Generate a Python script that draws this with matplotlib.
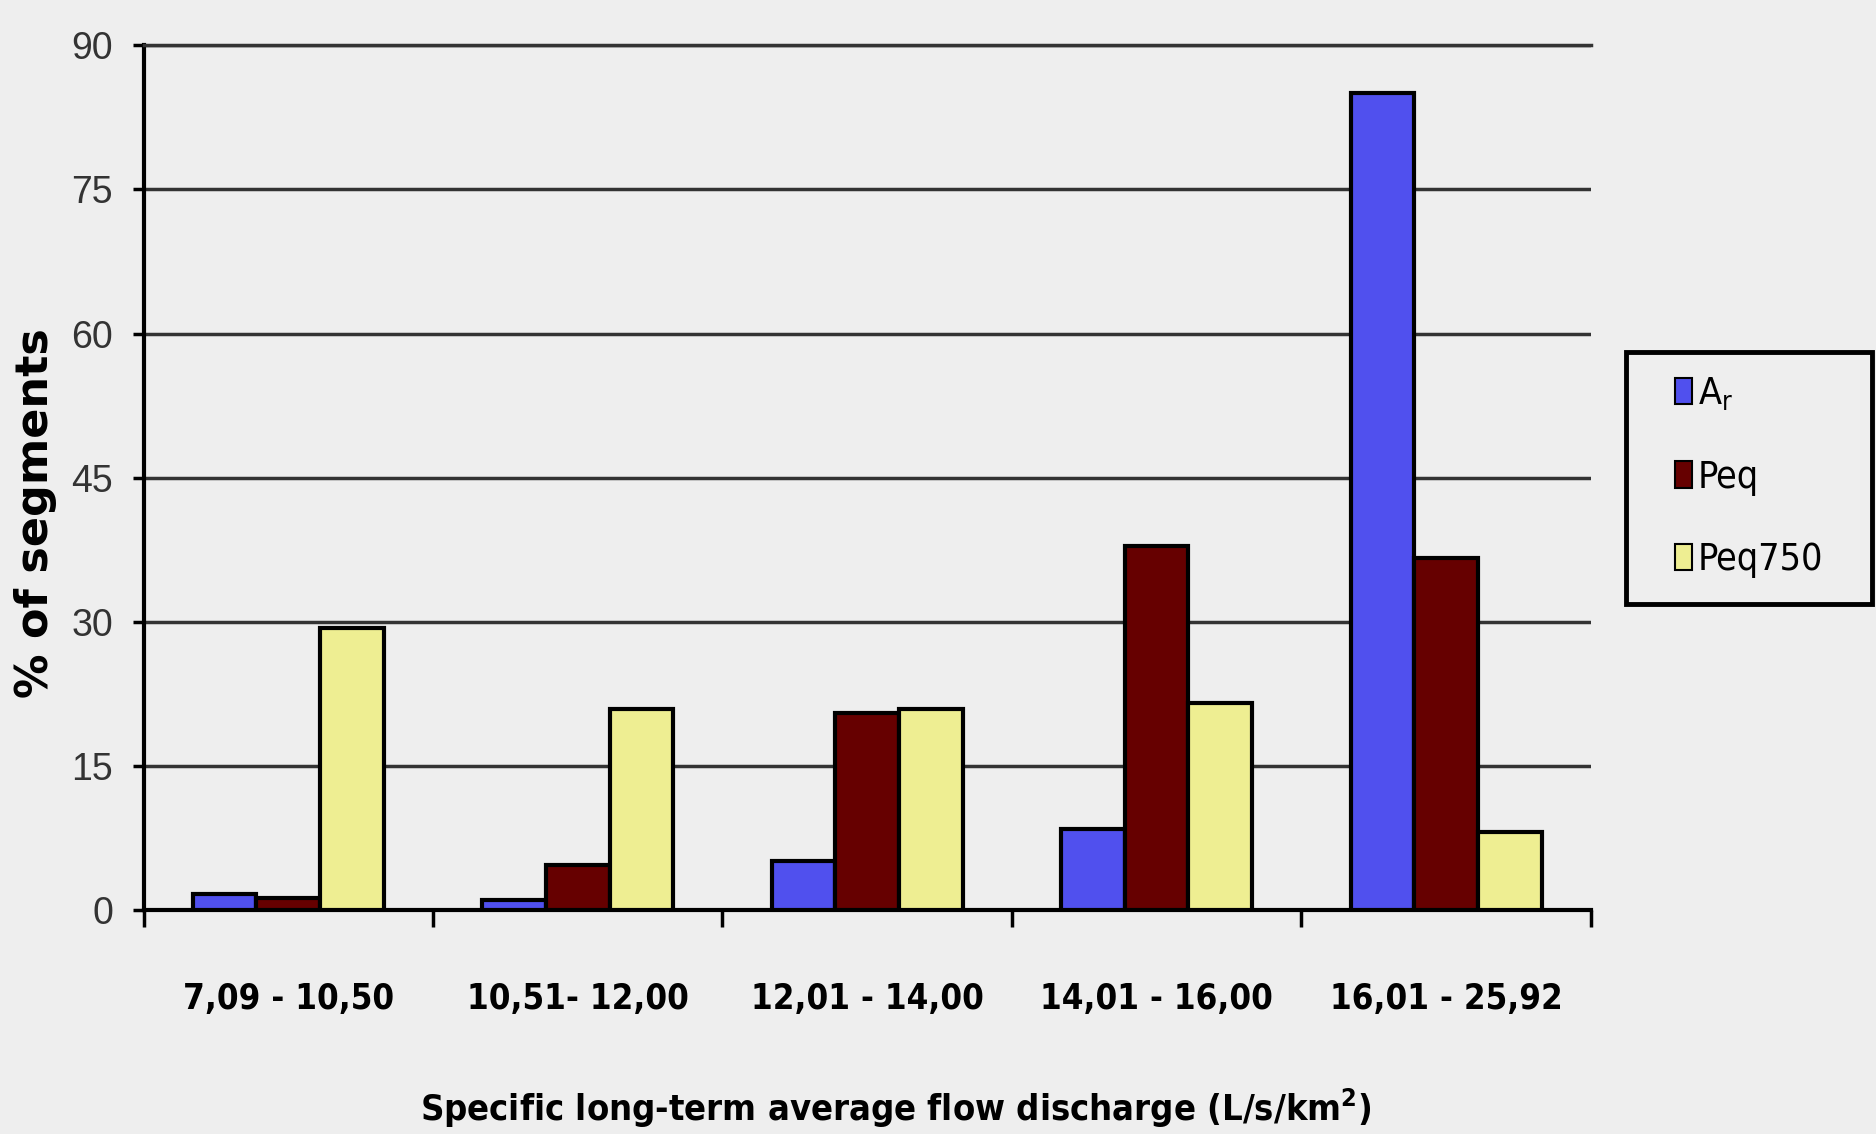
import matplotlib
matplotlib.use("Agg")
import matplotlib.pyplot as plt
import numpy as np
from matplotlib.patches import Rectangle
from matplotlib.ticker import FixedLocator, NullFormatter

# Discharge classes (L/s/km2) and share of river segments per class
categories = ["7,09 - 10,50", "10,51- 12,00", "12,01 - 14,00", "14,01 - 16,00", "16,01 - 25,92"]
series_names = ["A$_\\mathregular{r}$", "Peq", "Peq750"]
a_values = [1.7, 1.0, 5.1, 8.4, 85.0]
peq_values = [1.3, 4.7, 20.5, 37.9, 36.6]
peq750_values = [29.4, 20.9, 20.9, 21.6, 8.1]
y_ticks = [0, 15, 30, 45, 60, 75, 90]

colors = ["#5050ee", "#660000", "#eeee92"]
bg = "#eeeeee"
narrow = ["DejaVu Sans"]

fig = plt.figure(figsize=(18.76, 11.34), dpi=100, facecolor=bg)
ax = fig.add_axes([0.0765, 0.1975, 0.7715, 0.7625], facecolor=bg)

x = np.arange(len(categories))
width = 0.22
for i, (vals, col, name) in enumerate(zip([a_values, peq_values, peq750_values], colors, series_names)):
    ax.bar(x + (i - 1) * width, vals, width, color=col, edgecolor="black",
           linewidth=3, label=name, zorder=3)

ax.set_xlim(-0.5, len(categories) - 0.5)
ax.set_ylim(0, 90)

# horizontal grid
ax.set_yticks(y_ticks)
ax.yaxis.grid(True, color="#333333", linewidth=2.5, zorder=1)
ax.set_axisbelow(True)

ax.spines["right"].set_visible(False)
ax.spines["top"].set_color("#333333")
ax.spines["top"].set_linewidth(2.5)
ax.spines["left"].set_linewidth(3)
ax.spines["bottom"].set_linewidth(3)

ax.tick_params(axis="y", direction="out", length=8, width=2.5, pad=14,
               labelsize=27, labelcolor="#333333")
for lab in ax.get_yticklabels():
    lab.set_family(["Liberation Sans", "DejaVu Sans"])

# category labels centred, tick marks at the class boundaries
ax.set_xticks(x)
ax.set_xticklabels(categories, fontsize=25, fontweight="bold", family=narrow,
                   fontstretch="condensed")
ax.tick_params(axis="x", which="major", length=0, pad=52)
ax.xaxis.set_minor_locator(FixedLocator(np.arange(-0.5, len(categories), 1.0)))
ax.xaxis.set_minor_formatter(NullFormatter())
ax.tick_params(axis="x", which="minor", direction="out", length=12, width=2.5)

ax.set_xlabel("Specific long-term average flow discharge (L/s/km$^\\mathregular{2}$)",
              fontsize=26, fontweight="bold", family=narrow, fontstretch="condensed")
ax.xaxis.set_label_coords(0.52, -0.205)
fig.text(0.019, 0.548, "% of segments", rotation=90, fontsize=32,
         fontweight="heavy", family=["DejaVu Sans"], ha="center", va="center")

# legend box reaching the right edge of the figure
fig.patches.append(Rectangle((0.8665, 0.4675), 0.1315, 0.2225, transform=fig.transFigure,
                             facecolor=bg, edgecolor="black", linewidth=3.5, zorder=0))
leg = fig.legend(loc="upper left", bbox_to_anchor=(0.893, 0.669),
                 prop={"family": narrow, "size": 27, "stretch": "condensed"},
                 frameon=False, borderpad=0, borderaxespad=0,
                 labelspacing=1.25, handlelength=0.45, handleheight=0.7,
                 handletextpad=0.15)
for h in leg.legend_handles:
    h.set_linewidth(1.5)

fig.savefig("out.png", dpi=100, facecolor=bg)
